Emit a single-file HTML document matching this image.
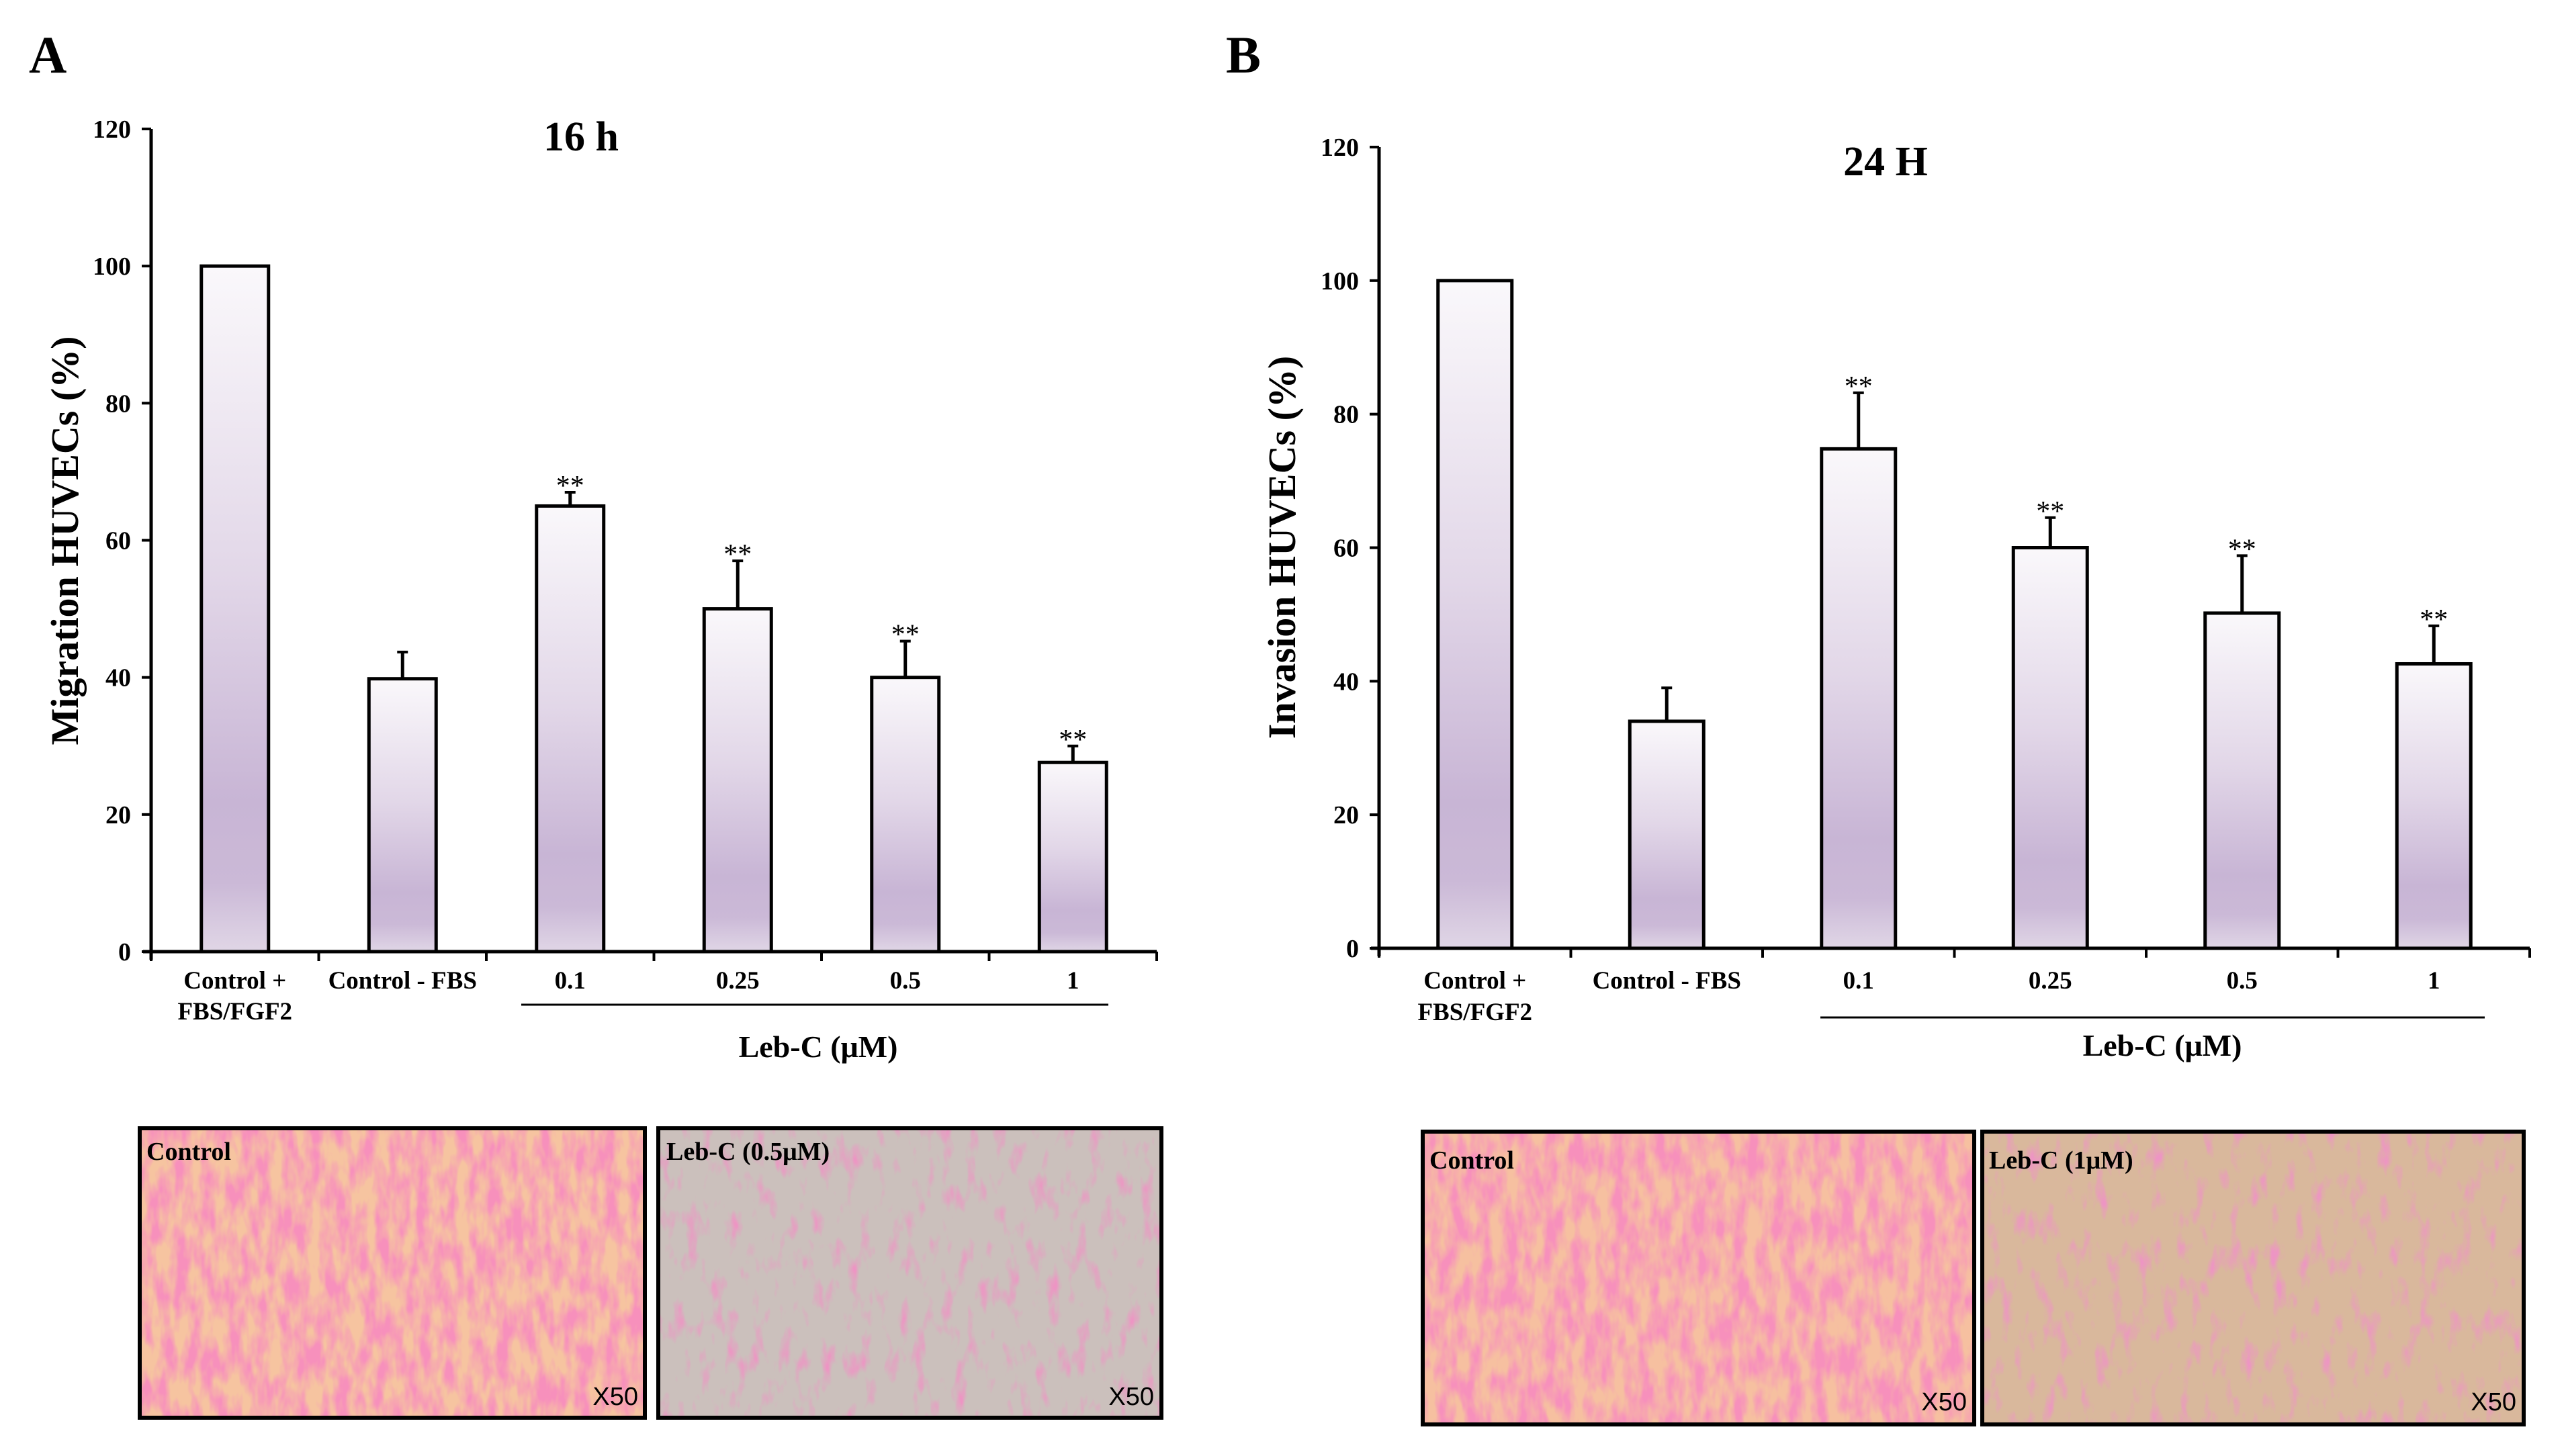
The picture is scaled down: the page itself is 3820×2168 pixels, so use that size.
<!DOCTYPE html>
<html><head><meta charset="utf-8">
<style>
html,body{margin:0;padding:0;background:#fff;}
svg{display:block;font-family:"Liberation Serif",serif;}
</style></head>
<body>
<svg id="fig" width="3820" height="2168" viewBox="0 0 3820 2168" xmlns="http://www.w3.org/2000/svg">
<defs>
<linearGradient id="barg" x1="0" y1="0" x2="0" y2="1">
<stop offset="0" stop-color="#faf8fb"/>
<stop offset="0.45" stop-color="#e2d7e8"/>
<stop offset="0.78" stop-color="#c8b5d5"/>
<stop offset="0.9" stop-color="#cbb9d7"/>
<stop offset="1" stop-color="#e0d6e6"/>
</linearGradient>
<filter id="noiseA" x="0" y="0" width="1" height="1">
<feTurbulence type="fractalNoise" baseFrequency="0.05 0.02" numOctaves="3" seed="3"/>
<feColorMatrix type="matrix" values="0 0 0 0 0.93  0 0 0 0 0.28  0 0 0 0 0.5  2.6 0 0 0 -0.85"/>
</filter>
<filter id="noiseB" x="0" y="0" width="1" height="1">
<feTurbulence type="fractalNoise" baseFrequency="0.05 0.02" numOctaves="3" seed="7"/>
<feColorMatrix type="matrix" values="0 0 0 0 0.85  0 0 0 0 0.3  0 0 0 0 0.55  3 0 0 0 -1.6"/>
</filter>
</defs>
<text x="43" y="108" font-size="78" font-weight="bold">A</text>
<text x="1825" y="108" font-size="78" font-weight="bold">B</text>
<g id="chartA"></g>
<g id="chartB"></g>

<g>
<rect x="208" y="1680" width="752" height="431" fill="#f6c4a0"/>
<rect x="208" y="1680" width="752" height="431" filter="url(#noiseA)"/>
<rect x="208" y="1680" width="752" height="431" fill="none" stroke="#000" stroke-width="6"/>
<text x="218" y="1727" font-size="38" font-weight="bold">Control</text>
<text x="950" y="2092" font-size="38" font-family="Liberation Sans,sans-serif" text-anchor="end">X50</text>
<rect x="980" y="1680" width="749" height="431" fill="#cbc0bc"/>
<rect x="980" y="1680" width="749" height="431" filter="url(#noiseB)"/>
<rect x="980" y="1680" width="749" height="431" fill="none" stroke="#000" stroke-width="6"/>
<text x="992" y="1727" font-size="38" font-weight="bold">Leb-C (0.5μM)</text>
<text x="1718" y="2092" font-size="38" font-family="Liberation Sans,sans-serif" text-anchor="end">X50</text>
</g>
<g>
<rect x="2118" y="1685" width="821" height="436" fill="#f6c0a0"/>
<rect x="2118" y="1685" width="821" height="436" filter="url(#noiseA)"/>
<rect x="2118" y="1685" width="821" height="436" fill="none" stroke="#000" stroke-width="6"/>
<text x="2128" y="1740" font-size="38" font-weight="bold">Control</text>
<text x="2928" y="2100" font-size="38" font-family="Liberation Sans,sans-serif" text-anchor="end">X50</text>
<rect x="2951" y="1685" width="806" height="436" fill="#d9b89c"/>
<rect x="2951" y="1685" width="806" height="436" filter="url(#noiseB)"/>
<rect x="2951" y="1685" width="806" height="436" fill="none" stroke="#000" stroke-width="6"/>
<text x="2961" y="1740" font-size="38" font-weight="bold">Leb-C (1μM)</text>
<text x="3746" y="2100" font-size="38" font-family="Liberation Sans,sans-serif" text-anchor="end">X50</text>
</g>
</svg>
<script>
const categories = ["Control +|FBS/FGF2", "Control - FBS", "0.1", "0.25", "0.5", "1"];
const migrationValues = [100, 39.8, 65, 50, 40, 27.6];
const migrationErrors = [0, 3.9, 2, 7, 5.3, 2.4];
const migrationSig = ["", "", "**", "**", "**", "**"];
const invasionValues = [100, 34, 74.8, 60, 50.2, 42.6];
const invasionErrors = [0, 5, 8.4, 4.5, 8.6, 5.7];
const invasionSig = ["", "", "**", "**", "**", "**"];
const yTicks = [0, 20, 40, 60, 80, 100, 120];

const NS = "http://www.w3.org/2000/svg";
function mk(parent, tag, attrs, txt) {
  const e = document.createElementNS(NS, tag);
  for (const k in attrs) e.setAttribute(k, attrs[k]);
  if (txt !== undefined) e.textContent = txt;
  parent.appendChild(e);
  return e;
}
function drawChart(g, cfg, values, errors, sig) {
  const yScale = v => cfg.y0 - (v / 120) * (cfg.y0 - cfg.y120);
  const catW = (cfg.xEnd - cfg.x0) / categories.length;
  const xCenter = i => cfg.x0 + catW * (i + 0.5);
  values.forEach((v, i) => {
    const cx = xCenter(i);
    if (errors[i] > 0) {
      const eb = mk(g, "line", {x1: cx, x2: cx, y1: yScale(v), y2: yScale(v + errors[i]), stroke: "#000", "stroke-width": 5});
      
      
      const cap = mk(g, "line", {x1: cx - 8, x2: cx + 8, y1: yScale(v + errors[i]), y2: yScale(v + errors[i]), stroke: "#000", "stroke-width": 4});
      
      
    }
    const b = mk(g, "rect", {x: cx - cfg.barW / 2, y: yScale(v), width: cfg.barW, height: yScale(0) - yScale(v), fill: "url(#barg)", stroke: "#000", "stroke-width": 5});
    
    
    if (sig[i]) {
      const s = mk(g, "text", {x: cx, y: yScale(v + errors[i]) + 4, "font-size": 42, "text-anchor": "middle"}, sig[i]);
      
      
    }
    const parts = categories[i].split("|");
    parts.forEach((p, j) => {
      const t = mk(g, "text", {x: cx, y: cfg.labY + j * cfg.labGap, "font-size": 37, "font-weight": "bold", "text-anchor": "middle"}, p);
      
      
    });
  });
  const ya = mk(g, "line", {x1: cfg.x0, x2: cfg.x0, y1: cfg.y120, y2: cfg.y0 + 12, stroke: "#000", "stroke-width": 5});
  
  
  const xa = mk(g, "line", {x1: cfg.x0 - 12, x2: cfg.xEnd, y1: cfg.y0, y2: cfg.y0, stroke: "#000", "stroke-width": 5});
  
  
  for (let i = 0; i <= categories.length; i++) {
    const x = cfg.x0 + catW * i;
    const tk = mk(g, "line", {x1: x, x2: x, y1: cfg.y0, y2: cfg.y0 + 14, stroke: "#000", "stroke-width": 4});
    
    
  }
  yTicks.forEach(v => {
    const tk = mk(g, "line", {x1: cfg.x0 - 14, x2: cfg.x0, y1: yScale(v), y2: yScale(v), stroke: "#000", "stroke-width": 4});
    
    
    const t = mk(g, "text", {x: cfg.x0 - 30, y: yScale(v) + 13, "font-size": 38, "font-weight": "bold", "text-anchor": "end"}, String(v));
    
    
  });
  const tt = mk(g, "text", {x: cfg.titleX, y: cfg.titleY, "font-size": 62, "font-weight": "bold", "text-anchor": "middle"}, cfg.title);
  
  
  const yt = mk(g, "text", {x: 0, y: 0, "font-size": 58, "font-weight": "bold", "text-anchor": "middle", transform: `translate(${cfg.yTitleX},${cfg.yTitleY}) rotate(-90)`}, cfg.yTitle);
  
  
  const gl = mk(g, "line", {x1: cfg.lineX1, x2: cfg.lineX2, y1: cfg.lineY, y2: cfg.lineY, stroke: "#000", "stroke-width": 3});
  
  
  const gt = mk(g, "text", {x: cfg.groupX, y: cfg.groupY, "font-size": 46, "font-weight": "bold", "text-anchor": "middle"}, "Leb-C (μM)");
  
  
}
drawChart(document.getElementById("chartA"), {
  x0: 225, xEnd: 1722, y0: 1417, y120: 192, barW: 100,
  labY: 1472, labGap: 46, title: "16 h", titleX: 865, titleY: 224,
  yTitle: "Migration HUVECs (%)", yTitleX: 116, yTitleY: 805,
  lineX1: 776, lineX2: 1650, lineY: 1496, groupX: 1218, groupY: 1574
}, migrationValues, migrationErrors, migrationSig);
drawChart(document.getElementById("chartB"), {
  x0: 2053, xEnd: 3766, y0: 1412, y120: 219, barW: 110,
  labY: 1472, labGap: 47, title: "24 H", titleX: 2807, titleY: 261,
  yTitle: "Invasion HUVECs (%)", yTitleX: 1928, yTitleY: 815,
  lineX1: 2710, lineX2: 3699, lineY: 1515, groupX: 3219, groupY: 1572
}, invasionValues, invasionErrors, invasionSig);
</script>
</body></html>
